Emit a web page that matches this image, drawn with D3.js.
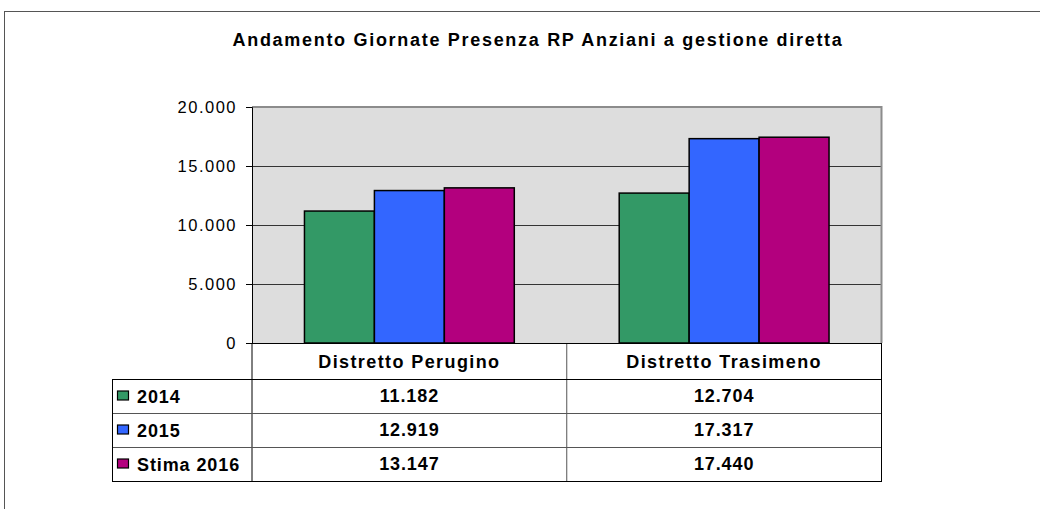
<!DOCTYPE html>
<html>
<head>
<meta charset="utf-8">
<script src="https://cdn.jsdelivr.net/npm/d3@7"></script>
<style>
  body { margin: 0; background: #fff; }
  text { font-family: "Liberation Sans", Arial, sans-serif; fill: #000; }
</style>
</head>
<body>
<div id="chart-area"></div>
<script>
// Chart data
let title = "Andamento Giornate Presenza RP Anziani a gestione diretta";
let districts = ["Distretto Perugino", "Distretto Trasimeno"];
let seriesNames = ["2014", "2015", "Stima 2016"];
let values2014 = [11182, 12704];
let values2015 = [12919, 17317];
let values2016 = [13147, 17440];
let yTicks = [0, 5000, 10000, 15000, 20000];

let colors = ["#339966", "#3366ff", "#b3007e"];
let seriesValues = [values2014, values2015, values2016];

// SVG drawing area
let width = 1040, height = 509;
let plot = {left: 252, right: 881.5, top: 107, bottom: 343};

let svg = d3.select("#chart-area").append("svg")
    .attr("width", width)
    .attr("height", height);

// Outer frame
svg.append("rect")
    .attr("x", 4.5).attr("y", 11.5)
    .attr("width", 1060).attr("height", 600)
    .attr("fill", "none")
    .attr("stroke", "#555");

// Title
svg.append("text")
    .attr("x", 538).attr("y", 46)
    .attr("text-anchor", "middle")
    .style("font-size", "18px")
    .style("font-weight", "bold")
    .style("letter-spacing", "1.7px")
    .text(title);

// Scales
let x = d3.scaleBand()
    .domain(districts)
    .range([plot.left, plot.right]);

let xSub = d3.scaleBand()
    .domain(seriesNames)
    .range([x.bandwidth() / 6, x.bandwidth() * 5 / 6]);

let y = d3.scaleLinear()
    .domain([0, 20000])
    .range([plot.bottom, plot.top]);

let fmt = d3.formatLocale({decimal: ",", thousands: ".", grouping: [3], currency: ["", ""]}).format(",d");

// Plot background
svg.append("rect")
    .attr("x", plot.left).attr("y", plot.top)
    .attr("width", plot.right - plot.left)
    .attr("height", plot.bottom - plot.top)
    .attr("fill", "#dddddd");

// Gridlines
svg.selectAll(".grid")
    .data(yTicks.filter(d => d > 0 && d < 20000))
    .enter().append("line")
    .attr("class", "grid")
    .attr("x1", plot.left).attr("x2", plot.right)
    .attr("y1", d => Math.round(y(d)) + 0.5)
    .attr("y2", d => Math.round(y(d)) + 0.5)
    .attr("stroke", "#333");

// Plot border top/right (gray)
svg.append("path")
    .attr("d", "M" + plot.left + "," + plot.top + "H" + plot.right + "V" + plot.bottom)
    .attr("fill", "none")
    .attr("stroke", "#8c8c8c")
    .attr("stroke-width", 2);

// Bars
let groups = svg.selectAll(".group")
    .data(districts)
    .enter().append("g")
    .attr("class", "group")
    .attr("transform", d => "translate(" + x(d) + ",0)");

groups.selectAll("rect")
    .data((d, i) => seriesNames.map((s, j) => ({series: s, value: seriesValues[j][i], color: colors[j]})))
    .enter().append("rect")
    .attr("x", d => xSub(d.series))
    .attr("y", d => y(d.value))
    .attr("width", xSub.bandwidth())
    .attr("height", d => y(0) - y(d.value))
    .attr("fill", d => d.color)
    .attr("stroke", "#000")
    .attr("stroke-width", 1.5);

// Y axis
let yAxis = d3.axisLeft(y)
    .tickValues(yTicks)
    .tickSize(6)
    .tickFormat(d => fmt(d));

let yAxisGroup = svg.append("g")
    .attr("class", "y-axis axis")
    .attr("transform", "translate(" + plot.left + ",0)")
    .call(yAxis);

yAxisGroup.select(".domain").attr("stroke", "#000");
yAxisGroup.selectAll(".tick line").attr("stroke", "#000");
yAxisGroup.selectAll(".tick text")
    .attr("x", -15)
    .attr("dy", "0.36em")
    .style("font-size", "16.5px")
    .style("font-family", "'Liberation Sans', Arial, sans-serif")
    .style("letter-spacing", "1.5px");

// Data table
let legendLeft = 112.5;
let headerTop = plot.bottom, headerBottom = 379;
let rows = d3.scaleBand()
    .domain(seriesNames)
    .range([headerBottom, 481]);

let table = svg.append("g").attr("class", "data-table");

// header cell borders
table.selectAll(".vline-head")
    .data([plot.left, x(districts[1]), plot.right])
    .enter().append("line")
    .attr("x1", d => d).attr("x2", d => d)
    .attr("y1", headerTop).attr("y2", rows.range()[1])
    .attr("stroke", (d, i) => i === 1 ? "#555" : "#000");

// horizontal row lines
table.selectAll(".hline")
    .data([headerBottom].concat(seriesNames.slice(1).map(s => rows(s))))
    .enter().append("line")
    .attr("x1", legendLeft).attr("x2", plot.right)
    .attr("y1", d => Math.round(d) + 0.5).attr("y2", d => Math.round(d) + 0.5)
    .attr("stroke", (d, i) => i === 0 ? "#000" : "#555");

// outer box of legend rows
table.append("rect")
    .attr("x", legendLeft).attr("y", headerBottom + 0.5)
    .attr("width", plot.right - legendLeft)
    .attr("height", rows.range()[1] - headerBottom)
    .attr("fill", "none")
    .attr("stroke", "#000");

// bottom axis line
svg.append("line")
    .attr("x1", plot.left - 6).attr("x2", plot.right)
    .attr("y1", plot.bottom + 0.5).attr("y2", plot.bottom + 0.5)
    .attr("stroke", "#000");

// header labels
table.selectAll(".head-label")
    .data(districts)
    .enter().append("text")
    .attr("x", d => x(d) + x.bandwidth() / 2)
    .attr("y", (headerTop + headerBottom) / 2 + 6.5)
    .attr("text-anchor", "middle")
    .style("font-size", "18px")
    .style("font-weight", "bold")
    .style("letter-spacing", "1.4px")
    .text(d => d);

// legend keys
let keyRows = table.selectAll(".key-row")
    .data(seriesNames)
    .enter().append("g")
    .attr("transform", d => "translate(0," + (rows(d) + rows.bandwidth() / 2) + ")");

keyRows.append("rect")
    .attr("x", 117.5).attr("y", -5)
    .attr("width", 11).attr("height", 9)
    .attr("fill", (d, i) => colors[i])
    .attr("stroke", "#000")
    .attr("stroke-width", 1.2);

keyRows.append("text")
    .attr("x", 137)
    .attr("y", 6.5)
    .style("font-size", "18px")
    .style("font-weight", "bold")
    .style("letter-spacing", "0.9px")
    .text(d => d);

// values
keyRows.selectAll(".val")
    .data((d, i) => districts.map((c, j) => ({district: c, value: seriesValues[i][j]})))
    .enter().append("text")
    .attr("x", d => x(d.district) + x.bandwidth() / 2)
    .attr("y", 5.5)
    .attr("text-anchor", "middle")
    .style("font-size", "18px")
    .style("font-weight", "bold")
    .style("letter-spacing", "0.9px")
    .text(d => fmt(d.value));
</script>
</body>
</html>
